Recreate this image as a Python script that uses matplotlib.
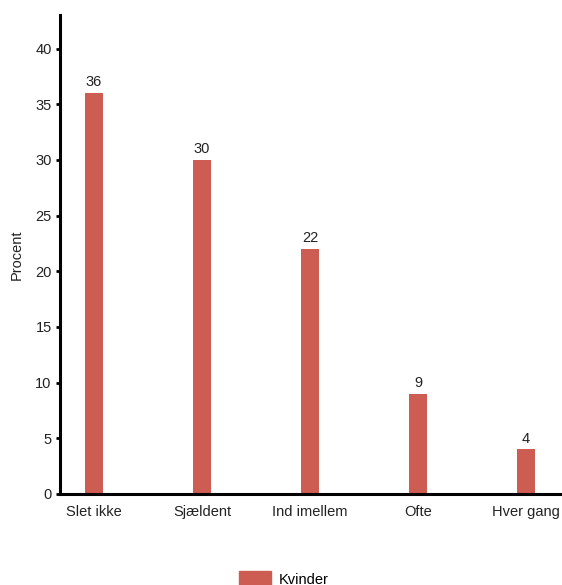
import matplotlib
matplotlib.use("Agg")
import matplotlib.pyplot as plt
from matplotlib.patches import Patch

categories = ["Slet ikke", "Sjældent", "Ind imellem", "Ofte", "Hver gang"]
kvinder = [36, 30, 22, 9, 4]
yticks = [0, 5, 10, 15, 20, 25, 30, 35, 40]

plt.rcParams['font.family'] = ['Liberation Sans', 'DejaVu Sans']
color = "#CD5C52"

fig = plt.figure(figsize=(5.62, 5.85), dpi=100)
ax = fig.add_axes([0.1068, 0.1556, 0.8896, 0.8184])
x = list(range(len(categories)))
bars = ax.bar(x, kvinder, width=0.167, color=color, label="Kvinder")
for xi, v in zip(x, kvinder):
    ax.text(xi, v + 0.35, str(v), ha="center", va="bottom", fontsize=10.5, color="#222222")

ax.set_xlim(-0.315, 4.315)
ax.set_ylim(0, 43)
ax.set_xticks(x)
ax.set_xticklabels(categories, fontsize=10.5, color="#222222")
ax.set_yticks(yticks)
ax.set_yticklabels([str(t) for t in yticks], fontsize=10.5, color="#222222")
ax.tick_params(axis="x", length=0, pad=8)
ax.tick_params(axis="y", length=3, width=2, pad=3)
ax.set_ylabel("Procent", fontsize=10.5, color="#222222", labelpad=8)
for s in ["top", "right"]:
    ax.spines[s].set_visible(False)
for s in ["left", "bottom"]:
    ax.spines[s].set_linewidth(2.2)
    ax.spines[s].set_color("black")

fig.legend(handles=[Patch(color=color, label="Kvinder")], loc="lower center",
           bbox_to_anchor=(0.505, -0.025), frameon=False, fontsize=10.5,
           handlelength=2.2, handleheight=1.2, handletextpad=0.5)

fig.savefig("out.png", dpi=100)
